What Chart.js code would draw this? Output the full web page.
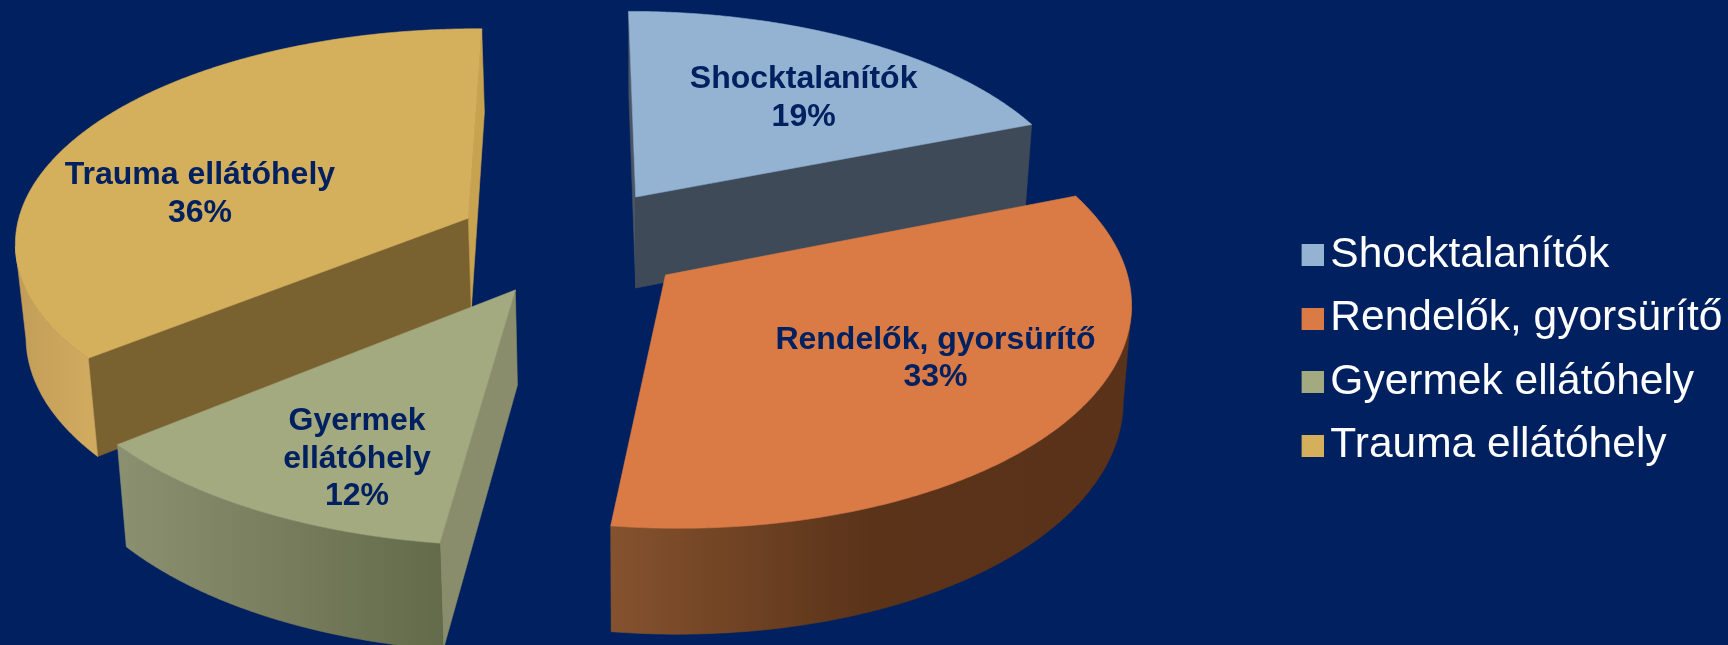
<!DOCTYPE html>
<html><head><meta charset="utf-8">
<style>html,body{margin:0;padding:0;background:#002060;overflow:hidden}canvas{display:block}</style>
<script src="https://cdn.jsdelivr.net/npm/chart.js@4"></script>
</head><body><canvas id="c" width="1728" height="645"></canvas>
<script>
const categories = ['Shocktalanítók', 'Rendelők, gyorsürítő', 'Gyermek ellátóhely', 'Trauma ellátóhely'];
const values = [19, 33, 12, 36];
const labelLines = [['Shocktalanítók', '19%'], ['Rendelők, gyorsürítő', '33%'], ['Gyermek', 'ellátóhely', '12%'], ['Trauma ellátóhely', '36%']];
const topColors = ['#94b2d1', '#da7b45', '#a3aa7f', '#d5b05c'];
const startWallColors = ['#4a5665', '#5a3319', '#898d6b', '#7a6230'];
const endWallColors = ['#3e4a57', '#5a3319', '#898d6b', '#c7a24f'];
const rimColors = [['#3e4a57', '#3e4a57'], ['#85522e', '#5a3319', '#5a3219'], ['#8b9070', '#646b4b'], ['#c29d58', '#d0aa5e']];
const paintOrder = [0, 3, 2, 1];
const sliceTurn = [0, .3, .4, .7];
const sliceRadiusU = [1, 1, 1.02, 1];
const sliceRadiusW = [1, 1.025, 1.02, 1];
const labelRadius = [.657, .665, .75, .63];
const labelTurn = [4, -4, -6, -12];
const labelNudgeX = [0, 0, -9, 2];
const labelNudgeY = [1.5, -1, 2, 5.5];

/* perspective camera for the pie plane */
const cam = {vx: 559, vy: -1825, ru: .22, e: 5e-5, cu: .029, cw: 9.68, explode: .255, depth: .045, leanX: 640, lean: .017};
function project(u, w) {
  const W = w * cam.e, U = u * cam.ru;
  return {x: cam.vx + U / W, y: cam.vy + 1 / W};
}
function drop(p) {
  return {x: p.x + (cam.leanX - p.x) * cam.lean, y: p.y + cam.depth * (p.y - cam.vy)};
}
function poly(ctx, pts, fill) {
  ctx.beginPath();
  pts.forEach((p, i) => i ? ctx.lineTo(p.x, p.y) : ctx.moveTo(p.x, p.y));
  ctx.closePath();
  ctx.fillStyle = fill; ctx.fill();
  ctx.strokeStyle = fill; ctx.lineWidth = .6; ctx.stroke();
}
function sliceGeom(arc, i) {
  const turn = sliceTurn[i] * Math.PI / 180;
  const t0 = arc.startAngle + Math.PI / 2, t1 = arc.endAngle + Math.PI / 2, mid = (t0 + t1) / 2;
  return {t0: t0 + turn, t1: t1 + turn, mid, ru: sliceRadiusU[i], rw: sliceRadiusW[i], u0: cam.cu + cam.explode * Math.sin(mid), w0: cam.cw + cam.explode * Math.cos(mid)};
}
const pie3d = {
  id: 'pie3d',
  beforeDatasetDraw(chart, args) {
    const ctx = chart.ctx, arcs = chart.getDatasetMeta(args.index).data;
    paintOrder.forEach(i => {
      const g = sliceGeom(arcs[i], i);
      const at = t => project(g.u0 + g.ru * Math.sin(t), g.w0 + g.rw * Math.cos(t));
      const apex = project(g.u0, g.w0), a = at(g.t0), b = at(g.t1);
      const face = (t, sign) => sign * (Math.cos(t) * -g.u0 + -Math.sin(t) * -g.w0) > 0;
      if (face(g.t0, -1)) poly(ctx, [apex, a, drop(a), drop(apex)], startWallColors[i]);
      if (face(g.t1, 1)) poly(ctx, [apex, b, drop(b), drop(apex)], endWallColors[i]);
      const top = [], rim = [];
      for (let k = 0; k <= 240; k++) {
        const t = g.t0 + (g.t1 - g.t0) * k / 240, p = at(t);
        top.push(p);
        if (-(g.u0 * Math.sin(t) + g.w0 * Math.cos(t) + 1) > 0) rim.push(p);
      }
      if (rim.length > 1) {
        const xs = rim.map(p => p.x), x0 = Math.min(...xs), x1 = Math.max(...xs);
        const grad = ctx.createLinearGradient(x0, 0, x1, 0);
        rimColors[i].forEach((c, n, l) => grad.addColorStop(n / (l.length - 1), c));
        poly(ctx, rim.concat(rim.slice().reverse().map(drop)), grad);
      }
      poly(ctx, [apex].concat(top), topColors[i]);
    });
    return false;
  },
  afterDatasetsDraw(chart) {
    const ctx = chart.ctx, arcs = chart.getDatasetMeta(0).data;
    ctx.save();
    ctx.fillStyle = '#002060';
    ctx.font = 'bold 32px "Liberation Sans"';
    ctx.textAlign = 'center'; ctx.textBaseline = 'middle';
    arcs.forEach((arc, i) => {
      const g = sliceGeom(arc, i), t = g.mid + labelTurn[i] * Math.PI / 180, r = labelRadius[i];
      const p = project(g.u0 + r * Math.sin(t), g.w0 + r * Math.cos(t));
      const lines = labelLines[i], lh = 37.5;
      lines.forEach((s, n) => ctx.fillText(s, p.x + labelNudgeX[i], p.y + labelNudgeY[i] + (n - (lines.length - 1) / 2) * lh));
    });
    ctx.restore();
  }
};
function swatch(color) {
  const c = document.createElement('canvas');
  c.width = 30; c.height = 22;
  const x = c.getContext('2d'); x.fillStyle = color; x.fillRect(8, 0, 22, 22);
  return c;
}
new Chart(document.getElementById('c'), {
  type: 'pie',
  data: {labels: categories, datasets: [{data: values, backgroundColor: topColors, borderWidth: 0}]},
  plugins: [pie3d],
  options: {
    responsive: false, animation: false, rotation: 0,
    layout: {padding: {top: 56, right: -4.5, bottom: 0, left: 0}},
    plugins: {
      tooltip: {enabled: false},
      legend: {
        position: 'right',
        labels: {
          color: '#ffffff', font: {family: '"Liberation Sans"', size: 42.5}, padding: 21,
          usePointStyle: true, pointStyleWidth: 1, boxHeight: 22,
          generateLabels: chart => categories.map((text, i) => ({text, index: i, fontColor: '#ffffff', fillStyle: topColors[i], strokeStyle: topColors[i], lineWidth: 0, pointStyle: swatch(topColors[i])}))
        }
      }
    }
  }
});
</script></body></html>
